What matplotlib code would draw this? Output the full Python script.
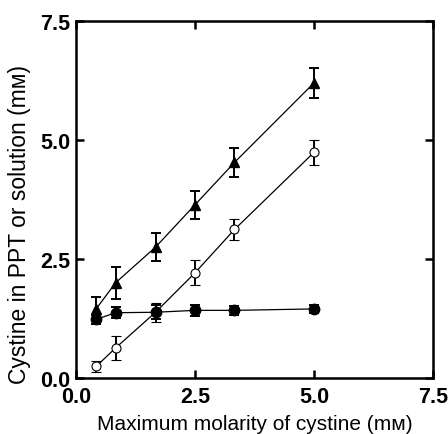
import matplotlib
matplotlib.use("Agg")
import matplotlib.pyplot as plt

plt.rcParams["font.family"] = ["Liberation Sans", "DejaVu Sans"]

conc = [0.42, 0.83, 1.67, 2.5, 3.33, 5.0]

# filled triangles
tri_y = [1.45, 2.0, 2.75, 3.64, 4.53, 6.2]
tri_err = [0.26, 0.34, 0.29, 0.29, 0.31, 0.31]

# open circles
open_y = [0.24, 0.63, 1.38, 2.21, 3.12, 4.74]
open_err = [0.12, 0.26, 0.2, 0.26, 0.23, 0.27]

# filled circles
fill_y = [1.23, 1.37, 1.38, 1.42, 1.42, 1.45]
fill_err = [0.1, 0.11, 0.15, 0.12, 0.1, 0.08]

fig = plt.figure(figsize=(4.48, 4.35), dpi=100)
ax = fig.add_axes([0.170, 0.129, 0.796, 0.820])

eb = dict(color="black", ecolor="black", elinewidth=1.4, capsize=3.8, capthick=1.4, lw=0.9)
ax.errorbar(conc, tri_y, yerr=tri_err, marker="^", ms=7, mfc="black", mec="black", **eb)
ax.errorbar(conc, open_y, yerr=open_err, marker="o", ms=6.5, mfc="white", mec="black", mew=0.8, **eb)
ax.errorbar(conc, fill_y, yerr=fill_err, marker="o", ms=7.5, mfc="black", mec="black", **eb)

ax.set_xlim(0, 7.5)
ax.set_ylim(0, 7.5)
ticks = [0.0, 2.5, 5.0, 7.5]
ax.set_xticks(ticks)
ax.set_yticks(ticks)
ax.set_xticklabels([f"{t:.1f}" for t in ticks], fontsize=15.5, fontweight="bold")
ax.set_yticklabels([f"{t:.1f}" for t in ticks], fontsize=15.5, fontweight="bold")
ax.tick_params(direction="in", length=6, width=1.8, top=True, right=True)
ax.tick_params(axis="x", pad=6)
ax.tick_params(axis="y", pad=4)
for s in ax.spines.values():
    s.set_linewidth(1.8)

ax.set_xlabel("Maximum molarity of cystine (mᴍ)", fontsize=15, labelpad=5)
ax.set_ylabel("Cystine in PPT or solution (mᴍ)", fontsize=16.5)
ax.yaxis.set_label_coords(-0.128, 0.434)

fig.savefig("out.png", dpi=100)
